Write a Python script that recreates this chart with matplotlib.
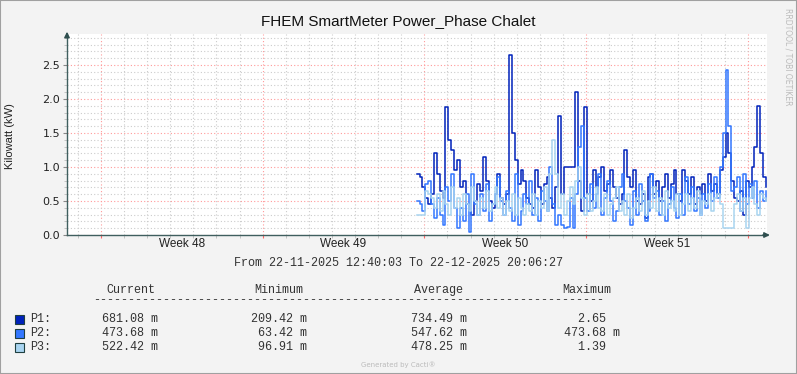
import matplotlib
matplotlib.use("Agg")
import matplotlib.pyplot as plt
import matplotlib.dates as mdates
from matplotlib.patches import Rectangle
import pandas as pd
from datetime import datetime, timedelta

# data (kW), one sample every 3 hours from 2025-12-07 16:00
start = "2025-12-07 16:00"
p1 = [0.9, 0.85, 0.7, 0.55, 0.45, 0.6, 1.2, 0.9, 0.65, 0.55,
      1.88, 1.4, 1.25, 0.95, 1.1, 0.7, 0.8, 0.45, 0.35, 0.3,
      0.5, 0.75, 0.65, 1.15, 0.8, 0.5, 0.4, 0.6, 0.9, 0.55,
      0.45, 0.6, 2.65, 1.5, 1.1, 0.75, 0.95, 0.8, 0.55, 0.45,
      0.4, 0.95, 0.7, 0.45, 0.75, 0.85, 0.55, 0.4, 0.7, 1.75,
      0.6, 1.0, 1.0, 1.0, 1.0, 2.1, 0.8, 0.35, 1.88, 0.6,
      0.5, 0.95, 0.7, 0.85, 1.0, 0.65, 0.75, 0.95, 0.7, 0.55,
      0.45, 0.6, 1.25, 0.85, 0.7, 0.95, 0.5, 0.45, 0.6, 0.25,
      0.85, 0.9, 0.6, 0.8, 0.5, 0.7, 0.9, 0.55, 0.75, 0.95,
      0.6, 0.5, 0.95, 0.8, 0.6, 0.85, 0.45, 0.7, 0.6, 0.75,
      0.5, 0.9, 0.65, 0.75, 0.6, 0.95, 1.15, 1.5, 1.2, 0.8,
      0.55, 0.5, 0.65, 0.3, 0.8, 0.7, 1.0, 1.3, 1.9, 1.2,
      0.85, 0.7]
p2 = [0.5, 0.45, 0.35, 0.75, 0.8, 0.45, 0.25, 0.55, 0.3, 0.15,
      0.7, 0.5, 0.9, 0.4, 0.1, 0.4, 0.2, 0.6, 0.05, 0.9,
      0.45, 0.3, 0.6, 0.35, 0.75, 0.2, 0.45, 0.6, 0.85, 0.5,
      0.3, 0.65, 0.4, 0.2, 0.9, 0.15, 0.35, 0.6, 0.45, 0.8,
      0.3, 0.55, 0.2, 0.65, 0.5, 0.35, 1.0, 0.45, 0.15, 0.3,
      0.15, 0.1, 0.12, 0.55, 0.1, 0.6, 1.3, 1.6, 0.55, 0.35,
      0.75, 0.4, 0.6, 0.9, 0.3, 0.55, 0.8, 0.5, 0.2, 0.35,
      0.7, 0.9, 0.5, 0.4, 0.15, 0.65, 0.3, 0.75, 0.5, 0.2,
      0.35, 0.9, 0.55, 0.65, 0.3, 0.5, 0.2, 0.45, 0.7, 0.4,
      0.25, 0.6, 0.3, 0.85, 0.45, 0.7, 0.35, 0.55, 0.3, 0.6,
      0.4, 0.75, 0.5, 0.85, 0.55, 1.0, 1.5, 2.43, 1.6, 0.65,
      0.7, 0.85, 0.35, 0.9, 0.45, 0.75, 0.55, 0.8, 0.4, 0.65,
      0.5, 0.65]
p3 = [0.3, 0.3, 0.3, 0.65, 0.6, 0.55, 0.4, 0.6, 0.35, 0.65,
      0.45, 0.3, 0.7, 0.4, 0.55, 0.3, 0.6, 0.45, 0.35, 0.7,
      0.5, 0.3, 0.55, 0.4, 0.65, 0.35, 0.45, 0.7, 0.4, 0.55,
      0.3, 0.5, 0.35, 0.6, 0.3, 0.55, 0.4, 0.3, 0.45, 0.35,
      0.6, 0.3, 0.5, 0.4, 0.7, 0.35, 0.9, 1.39, 0.9, 0.4,
      0.6, 0.3, 0.5, 0.7, 0.45, 0.8, 1.0, 0.55, 0.3, 0.6,
      0.35, 0.5, 0.7, 0.4, 0.35, 0.6, 0.3, 0.45, 0.55, 0.7,
      0.35, 0.5, 0.3, 0.6, 0.25, 0.4, 0.55, 0.35, 0.65, 0.3,
      0.5, 0.4, 0.7, 0.35, 0.55, 0.3, 0.65, 0.4, 0.5, 0.35,
      0.6, 0.3, 0.45, 0.6, 0.35, 0.55, 0.4, 0.65, 0.3, 0.5,
      0.45, 0.6, 0.35, 0.55, 0.6, 0.45, 0.1, 0.1, 0.1, 0.1,
      0.45, 0.6, 0.35, 0.55, 0.1, 0.55, 0.7, 0.45, 0.3, 0.6,
      0.55, 0.5]

names = ["P1:", "P2:", "P3:"]
colors = ["#0022bb", "#3377ff", "#a8d4f0"]
headers = ["Current", "Minimum", "Average", "Maximum"]
current = ["681.08 m", "473.68 m", "522.42 m"]
minimum = ["209.42 m", "63.42 m", "96.91 m"]
average = ["734.49 m", "547.62 m", "478.25 m"]
maximum = ["2.65", "473.68 m", "1.39"]

t0 = datetime(2025, 11, 22, 12, 40, 3)
t1 = datetime(2025, 12, 22, 20, 6, 27)

W, H = 797, 374
fig = plt.figure(figsize=(W / 100, H / 100), dpi=100, facecolor="#f3f3f3")
fig.patches.append(Rectangle((0, 0), 1, 1, transform=fig.transFigure,
                             fill=False, edgecolor="#a0a0a0", lw=1.5))

def fx(px):
    return px / W

def fy(py):
    return 1 - py / H

ax = fig.add_axes([fx(67), fy(235), fx(767) - fx(67), fy(34) - fy(235)])
ax.set_facecolor("white")

t = pd.date_range(start, periods=len(p1), freq="3h")
for s, c in zip([p1, p2, p3], colors):
    ax.plot(t, s, drawstyle="steps-post", color=c, lw=1.1)

ax.set_xlim(t0, t1)
ax.set_ylim(0, 2.956)

# grid
ax.set_yticks([0, 0.5, 1.0, 1.5, 2.0, 2.5])
ax.set_yticks([i / 10 for i in range(30)], minor=True)
ax.yaxis.set_major_formatter(plt.FuncFormatter(lambda v, p: f"{v:.1f}"))
ax.xaxis.set_major_locator(mdates.WeekdayLocator(byweekday=mdates.MO))
ax.xaxis.set_minor_locator(mdates.DayLocator())
ax.xaxis.set_major_formatter(plt.NullFormatter())
ax.grid(which="minor", color="#cccccc", ls=(0, (1, 2)), lw=0.8)
ax.grid(which="major", color="#ff9999", ls=(0, (1, 2)), lw=0.8)
ax.set_axisbelow(True)

ax.tick_params(axis="y", which="major", length=3, color="#888888",
               labelsize=8, labelcolor="#222222", pad=2)
ax.tick_params(axis="y", which="minor", length=2, color="#bbbbbb")
ax.tick_params(axis="x", which="major", length=2, color="#ff6666")
ax.tick_params(axis="x", which="minor", length=2, color="#bbbbbb")

for side in ["top", "right"]:
    ax.spines[side].set_visible(False)
for side in ["left", "bottom"]:
    ax.spines[side].set_color("#3f5f5f")
    ax.spines[side].set_linewidth(1.0)

# axis arrows
ax.annotate("", xy=(1.008, 0), xytext=(0.99, 0), xycoords="axes fraction",
            arrowprops=dict(arrowstyle="-|>", color="#2f4f4f", lw=1,
                            mutation_scale=8))
ax.annotate("", xy=(0, 1.025), xytext=(0, 0.98), xycoords="axes fraction",
            arrowprops=dict(arrowstyle="-|>", color="#2f4f4f", lw=1,
                            mutation_scale=8))

sans = "Liberation Sans"

# week labels in the middle of each week
d = datetime(2025, 11, 24)
while d < t1:
    mid = d + timedelta(days=3.5)
    if t0 < mid < t1:
        ax.text(mdates.date2num(mid), -0.047, f"Week {mid.isocalendar()[1]}",
                transform=ax.get_xaxis_transform(), ha="center", va="center",
                fontsize=8.5, family=sans, color="#222222")
    d += timedelta(days=7)

fig.text(fx(398), fy(21), "FHEM SmartMeter Power_Phase Chalet",
         ha="center", va="center", fontsize=11, family=sans, color="#111111")
fig.text(fx(10), fy(136), "Kilowatt (kW)", rotation=90, ha="center",
         va="center", fontsize=8, family=sans, color="#222222")
fig.text(fx(788), fy(57), "RRDTOOL / TOBI OETIKER", rotation=270,
         ha="center", va="center", fontsize=5.5, color="#bbbbbb")

mono = "Liberation Mono"
tc = "#333333"
fig.text(fx(398), fy(263), "From 22-11-2025 12:40:03 To 22-12-2025 20:06:27",
         ha="center", va="center", family=mono, fontsize=8.5, color=tc)

col_x = [155, 303, 463, 611]
for h, x in zip(headers, col_x):
    fig.text(fx(x), fy(290), h, ha="right", va="center", family=mono,
             fontsize=8.5, color=tc)
fig.text(fx(93), fy(300), "-" * 73, ha="left", va="center", family=mono,
         fontsize=8.5, color=tc)

for i in range(3):
    y = 319 + i * 14
    fig.patches.append(Rectangle((fx(15), fy(y + 5)), fx(9), 9 / H,
                                 transform=fig.transFigure,
                                 facecolor=colors[i], edgecolor="#1f3f3f",
                                 lw=0.8))
    fig.text(fx(30), fy(y), names[i], ha="left", va="center", family=mono,
             fontsize=8.5, color=tc)
    for vals, x in zip([current, minimum, average, maximum],
                       [158, 307, 467, 620]):
        v = vals[i]
        if not v.endswith(" m"):
            v = v + "  "
        fig.text(fx(x), fy(y), v, ha="right", va="center", family=mono,
                 fontsize=8.5, color=tc)

fig.text(fx(398), fy(365), "Generated by Cacti®", ha="center", va="center",
         fontsize=5, color="#bbbbbb")

fig.savefig("out.png", dpi=100, facecolor=fig.get_facecolor())
